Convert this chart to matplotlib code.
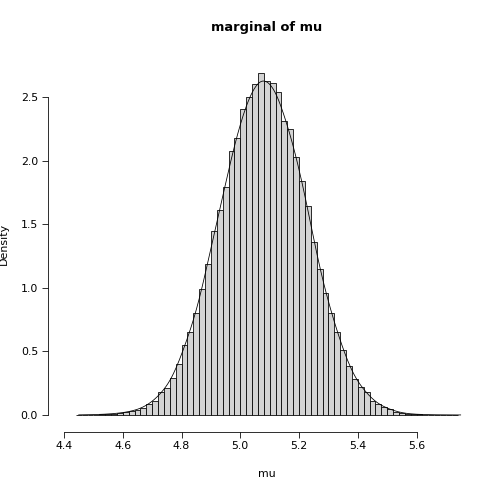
import numpy as np
import matplotlib
matplotlib.use("Agg")
import matplotlib.pyplot as plt

bin_width = 0.02
bin_start = 4.44
heights = [0.001, 0.001, 0.002, 0.003, 0.005, 0.007,
           0.01, 0.015, 0.02, 0.03, 0.04, 0.055, 0.09, 0.11, 0.18, 0.21, 0.29, 0.40,
           0.55, 0.65, 0.80, 0.99, 1.19, 1.45, 1.61, 1.79, 2.08, 2.18, 2.41, 2.50, 2.60,
           2.69, 2.63, 2.61, 2.54, 2.31, 2.25, 2.03, 1.84, 1.64, 1.36, 1.15, 0.96, 0.80,
           0.65, 0.51, 0.385, 0.28, 0.22, 0.18, 0.11, 0.084, 0.06, 0.045, 0.025, 0.015,
           0.01, 0.006, 0.004, 0.003, 0.002, 0.001, 0.001, 0.0005, 0.0005]
heights = np.array(heights)
edges = bin_start + bin_width * np.arange(len(heights) + 1)
mids = (edges[:-1] + edges[1:]) / 2

# smoothed density curve from the histogram (Gaussian kernel)
xs = np.linspace(4.45, 5.75, 400)
bw = 0.025
w = heights * bin_width
curve = (w[None, :] * np.exp(-0.5 * ((xs[:, None] - mids[None, :]) / bw) ** 2)).sum(1) / (bw * np.sqrt(2 * np.pi))

fig = plt.figure(figsize=(7, 7), dpi=72)
ax = fig.add_axes([60.5/504, 1-428.7/504, (473-60.5)/504, (428.7-59)/504])
ax.bar(edges[:-1], heights, width=bin_width, align='edge', color='#d3d3d3', edgecolor='black', linewidth=0.8)
ax.plot(xs, curve, color='black', linewidth=0.8)
ax.set_xlim(4.388, 5.792)
ax.set_ylim(-0.108, 2.80)
ax.set_xticks([4.4, 4.6, 4.8, 5.0, 5.2, 5.4, 5.6])
ax.set_xticklabels(['4.4', '4.6', '4.8', '5.0', '5.2', '5.4', '5.6'])
ax.set_yticks([0, 0.5, 1.0, 1.5, 2.0, 2.5])
ax.set_yticklabels(['0.0', '0.5', '1.0', '1.5', '2.0', '2.5'], rotation=90, va='center')
for s in ['top', 'right']:
    ax.spines[s].set_visible(False)
ax.spines['bottom'].set_position(('outward', 3))
ax.spines['left'].set_position(('outward', 13))
ax.spines['bottom'].set_bounds(4.4, 5.6)
ax.spines['left'].set_bounds(0, 2.5)
ax.tick_params(labelsize=11, length=6)
ax.set_xlabel('mu', fontsize=11, labelpad=18)
ax.set_ylabel('Density', fontsize=11, labelpad=12)
ax.set_title('marginal of mu', fontsize=13, fontweight='bold', pad=28)
fig.savefig('out.png', dpi=72)
